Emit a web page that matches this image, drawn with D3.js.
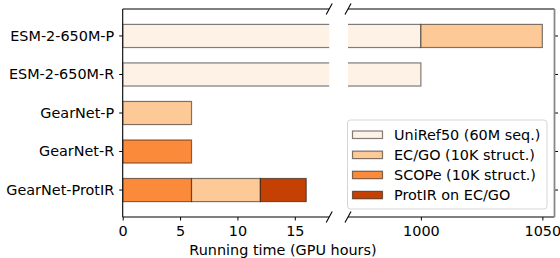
<!DOCTYPE html>
<html>
<head>
<meta charset="utf-8">
<script src="https://cdn.jsdelivr.net/npm/d3@7"></script>
<style>
  body { margin: 0; background: #fff; }
  text { font-family: "DejaVu Sans", sans-serif; font-size: 14.4px; fill: #000; }
</style>
</head>
<body>
<div id="chart"></div>
<script>
// categories, top to bottom
var models = ["ESM-2-650M-P", "ESM-2-650M-R", "GearNet-P", "GearNet-R", "GearNet-ProtIR"];

// stages (legend order)
var stages = ["UniRef50 (60M seq.)", "EC/GO (10K struct.)", "SCOPe (10K struct.)", "ProtIR on EC/GO"];
var stageColors = ["#fef2e6", "#fdc997", "#fb8a3a", "#c54103"];

// GPU hours per stage, in stacking order for every model
var segments = [
    [{ stage: 0, hours: 1000 }, { stage: 1, hours: 50 }],
    [{ stage: 0, hours: 1000 }],
    [{ stage: 1, hours: 6 }],
    [{ stage: 2, hours: 6 }],
    [{ stage: 2, hours: 6 }, { stage: 1, hours: 6 }, { stage: 3, hours: 4 }]
];

var leftTicks = [0, 5, 10, 15];
var rightTicks = [1000, 1050];

var width = 560, height = 258;

var svg = d3.select("#chart")
    .append("svg")
    .attr("width", width)
    .attr("height", height)

var yTop = 9, yBottom = 217;

var y = d3.scaleBand()
    .domain(models)
    .range([yTop, yBottom])
    .paddingInner(0.4)
    .paddingOuter(0.4)

var xLeft = d3.scaleLinear().domain([0, 18]).range([122.7, 329.2]);
var xRight = d3.scaleLinear().domain([970, 1055]).range([348, 554.5]);

// flatten into stacked rects
var rects = []
segments.forEach(function(segs, i) {
    var start = 0;
    segs.forEach(function(s) {
        rects.push({ model: models[i], stage: s.stage, x0: start, x1: start + s.hours });
        start += s.hours;
    });
});

var defs = svg.append("defs");

function panel(name, x, ticks) {
    var r = x.range();
    defs.append("clipPath").attr("id", "clip-" + name)
        .append("rect")
        .attr("x", r[0]).attr("y", yTop)
        .attr("width", r[1] - r[0]).attr("height", yBottom - yTop)

    var g = svg.append("g").attr("clip-path", "url(#clip-" + name + ")");
    g.selectAll("rect")
        .data(rects)
        .enter()
        .append("rect")
        .attr("x", d => x(d.x0))
        .attr("y", d => y(d.model))
        .attr("width", d => x(d.x1) - x(d.x0))
        .attr("height", y.bandwidth())
        .attr("fill", d => stageColors[d.stage])
        .attr("stroke", "#000")
        .attr("stroke-opacity", 0.5)
        .attr("stroke-width", 1.2)

    var axis = svg.append("g")
        .attr("transform", "translate(0," + yBottom + ")")
        .call(d3.axisBottom(x).tickValues(ticks).tickSize(3.5).tickPadding(5).tickFormat(d3.format("d")));
    axis.select(".domain").remove();
    axis.selectAll("text").style("font-size", "14.4px").style("font-family", "DejaVu Sans");

    // top and bottom spines
    svg.append("line").attr("x1", r[0]).attr("x2", r[1]).attr("y1", yTop).attr("y2", yTop)
        .attr("stroke", "#000").attr("stroke-width", 1.1)
    svg.append("line").attr("x1", r[0]).attr("x2", r[1]).attr("y1", yBottom).attr("y2", yBottom)
        .attr("stroke", "#000").attr("stroke-width", 1.1)
}

panel("left", xLeft, leftTicks);
panel("right", xRight, rightTicks);

// left y axis
var yAxis = svg.append("g")
    .attr("transform", "translate(" + xLeft.range()[0] + ",0)")
    .call(d3.axisLeft(y).tickSize(3.5).tickPadding(5));
yAxis.select(".domain").remove();
yAxis.selectAll("text").style("font-size", "14.4px").style("font-family", "DejaVu Sans");
svg.append("line")
    .attr("x1", xLeft.range()[0]).attr("x2", xLeft.range()[0])
    .attr("y1", yTop).attr("y2", yBottom)
    .attr("stroke", "#000").attr("stroke-width", 1.1)

// right y axis (ticks only)
var yAxisR = svg.append("g")
    .attr("transform", "translate(" + xRight.range()[1] + ",0)")
    .call(d3.axisRight(y).tickSize(3.5).tickFormat(""));
yAxisR.select(".domain").remove();
svg.append("line")
    .attr("x1", xRight.range()[1]).attr("x2", xRight.range()[1])
    .attr("y1", yTop).attr("y2", yBottom)
    .attr("stroke", "#888").attr("stroke-width", 1.8)

// break marks
var breaks = [xLeft.range()[1], xRight.range()[0]];
[yTop, yBottom].forEach(function(yy) {
    breaks.forEach(function(xx) {
        svg.append("line")
            .attr("x1", xx - 3).attr("y1", yy + 5.5)
            .attr("x2", xx + 3).attr("y2", yy - 5.5)
            .attr("stroke", "#000").attr("stroke-width", 1.1)
    });
});

// x label
svg.append("text")
    .attr("x", 283)
    .attr("y", 255)
    .attr("text-anchor", "middle")
    .text("Running time (GPU hours)")

// legend
var legend = svg.append("g").attr("transform", "translate(347.5,120)");
legend.append("rect")
    .attr("width", 199.5).attr("height", 89)
    .attr("rx", 3)
    .attr("fill", "#fff").attr("fill-opacity", 0.85)
    .attr("stroke", "#d6d6d6").attr("stroke-width", 1)

var items = legend.selectAll("g.item")
    .data(stages)
    .enter()
    .append("g")
    .attr("class", "item")
    .attr("transform", (d, i) => "translate(0," + (11 + i * 20.1) + ")")

items.append("rect")
    .attr("x", 5).attr("width", 30).attr("height", 7.5)
    .attr("fill", (d, i) => stageColors[i])
    .attr("stroke", "#000").attr("stroke-opacity", 0.5).attr("stroke-width", 1.2)

items.append("text")
    .attr("x", 46.5)
    .attr("y", 9)
    .text(d => d)
</script>
</body>
</html>
